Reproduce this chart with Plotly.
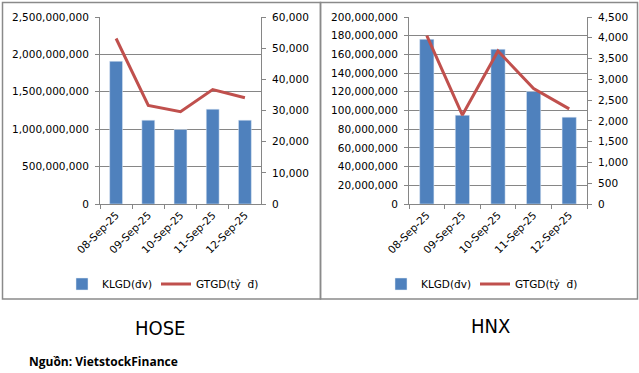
import plotly.graph_objects as go

dates = ["08-Sep-25", "09-Sep-25", "10-Sep-25", "11-Sep-25", "12-Sep-25"]
hose_klgd = [1908000000, 1121000000, 996000000, 1268000000, 1121000000]
hose_gtgd = [53100, 31600, 29600, 36700, 34100]
hnx_klgd = [176200000, 95000000, 165500000, 120300000, 92900000]
hnx_gtgd = [4050, 2140, 3680, 2780, 2290]

W, H = 639, 373
BAR = "#4F81BD"
LINE = "#C0504D"
AX = "#868686"
FONT = "DejaVu Sans"
TITLE_FONT = "DejaVu Sans Condensed, Liberation Sans Narrow, sans-serif"

def px_x(p):
    return p / W

def px_y(p):
    return 1 - p / H

fig = go.Figure()
fig.add_trace(go.Bar(x=dates, y=hose_klgd, name="KLGD(đv)", marker_color=BAR, width=0.4,
                     xaxis="x", yaxis="y", legend="legend"))
fig.add_trace(go.Scatter(x=dates, y=hose_gtgd, name="GTGD(tỷ  đ)", mode="lines",
                         line=dict(color=LINE, width=3), xaxis="x", yaxis="y2", legend="legend2"))
fig.add_trace(go.Bar(x=dates, y=hnx_klgd, name="KLGD(đv)", marker_color=BAR, width=0.4,
                     xaxis="x2", yaxis="y3", legend="legend3"))
fig.add_trace(go.Scatter(x=dates, y=hnx_gtgd, name="GTGD(tỷ  đ)", mode="lines",
                         line=dict(color=LINE, width=3), xaxis="x2", yaxis="y4", legend="legend4"))

tickfont = dict(family=FONT, size=10.5, color="#000000")
ydom = [px_y(204), px_y(17)]

def xaxis(dom, anchor):
    return dict(domain=dom, anchor=anchor, type="category", showline=True, linecolor=AX,
                linewidth=1, ticks="outside", tickson="boundaries", ticklen=4, tickcolor=AX,
                tickangle=-45, tickfont=tickfont, showgrid=False, fixedrange=True,
                automargin=False)

def yleft(rng, dt, anchor):
    return dict(domain=ydom, anchor=anchor, range=rng, dtick=dt, tickformat=",d",
                showline=True, linecolor=AX, ticks="outside", ticklen=4, tickcolor=AX,
                showgrid=True, gridcolor=AX, gridwidth=1, zeroline=False,
                tickfont=tickfont, ticklabelstandoff=4, fixedrange=True, automargin=False)

def yright(rng, dt, anchor, over):
    return dict(domain=ydom, anchor=anchor, overlaying=over, side="right", range=rng, dtick=dt,
                tickformat=",d", showline=True, linecolor=AX, ticks="outside", ticklen=4,
                tickcolor=AX, showgrid=False, zeroline=False, tickfont=tickfont,
                ticklabelstandoff=4, fixedrange=True, automargin=False)

legend_common = dict(orientation="h", yanchor="middle", xanchor="left",
                     font=dict(family=FONT, size=10.5), bgcolor="rgba(0,0,0,0)",
                     itemwidth=30)

fig.update_layout(
    width=W, height=H, margin=dict(l=0, r=0, t=0, b=0, autoexpand=False),
    paper_bgcolor="white", plot_bgcolor="white",
    font=dict(family=FONT, size=10.5, color="#000000"),
    xaxis=xaxis([px_x(100), px_x(261)], "y"),
    yaxis=yleft([0, 2500000000], 500000000, "x"),
    yaxis2=yright([0, 60000], 10000, "x", "y"),
    xaxis2=xaxis([px_x(409), px_x(587)], "y3"),
    yaxis3=yleft([0, 200000000], 20000000, "x2"),
    yaxis4=yright([0, 4500], 500, "x2", "y3"),
    legend=dict(legend_common, x=px_x(62), y=px_y(284)),
    legend2=dict(legend_common, x=px_x(156), y=px_y(284)),
    legend3=dict(legend_common, x=px_x(381), y=px_y(284)),
    legend4=dict(legend_common, x=px_x(475), y=px_y(284)),
    showlegend=True,
    hovermode=False,
    shapes=[
        dict(type="rect", xref="paper", yref="paper", x0=px_x(2.5), x1=px_x(320.5),
             y0=px_y(299), y1=px_y(2.5), line=dict(color="#8a8a8a", width=1.5)),
        dict(type="rect", xref="paper", yref="paper", x0=px_x(320.5), x1=px_x(637.5),
             y0=px_y(299), y1=px_y(2.5), line=dict(color="#8a8a8a", width=1.5)),
    ],
    annotations=[
        dict(text="HOSE", xref="paper", yref="paper", x=px_x(161), y=px_y(328), showarrow=False,
             xanchor="center", yanchor="middle",
             font=dict(family=TITLE_FONT, size=20, color="#000")),
        dict(text="HNX", xref="paper", yref="paper", x=px_x(490), y=px_y(326), showarrow=False,
             xanchor="center", yanchor="middle",
             font=dict(family=TITLE_FONT, size=20, color="#000")),
        dict(text="<b>Nguồn: VietstockFinance</b>", xref="paper", yref="paper", x=px_x(27),
             y=px_y(361), showarrow=False, xanchor="left", yanchor="middle",
             font=dict(family="Open Sans", size=12, color="#000")),
    ],
)

fig.write_html("out.html", config={"displayModeBar": False},
               post_script="document.body.style.margin='0px';")
